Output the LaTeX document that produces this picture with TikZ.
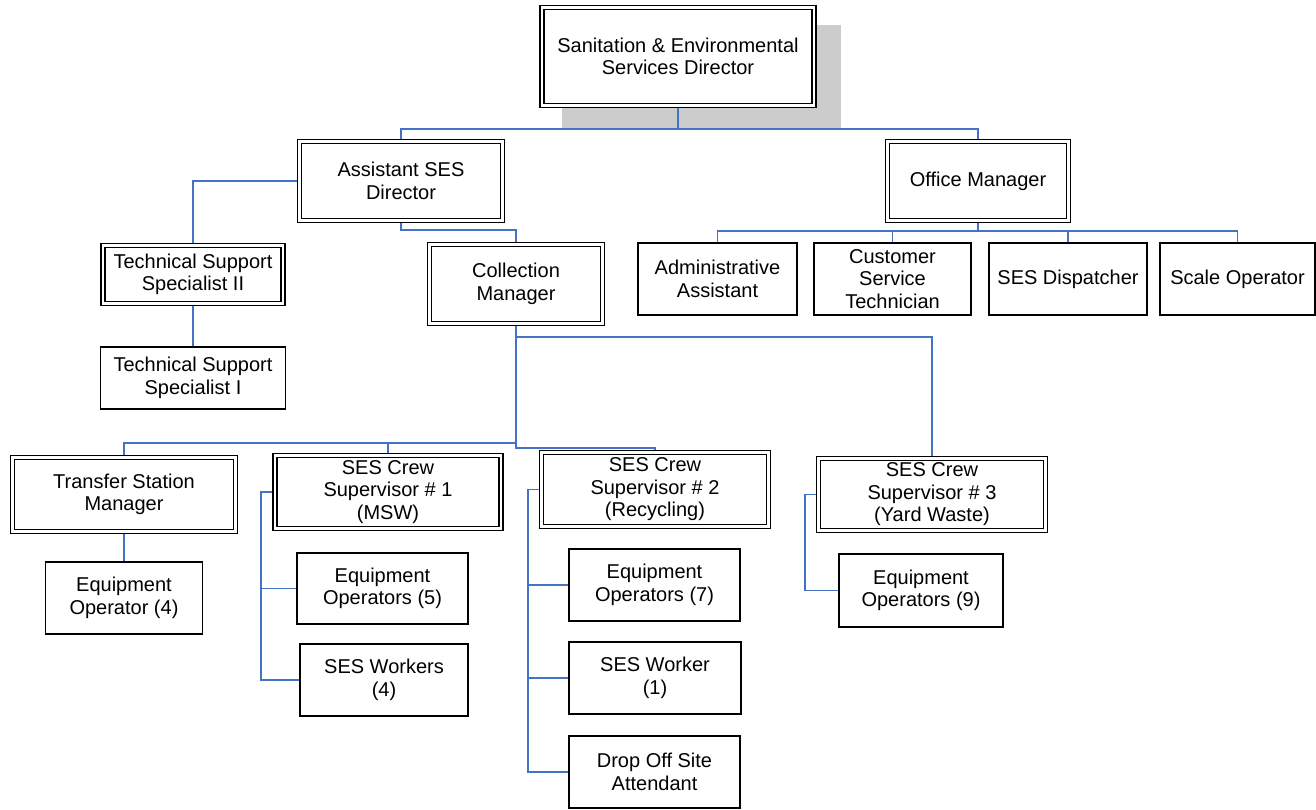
\documentclass[tikz,border=0pt]{standalone}
\usepackage{fontspec}
\setmainfont{Liberation Sans}
\usetikzlibrary{backgrounds}
\definecolor{connblue}{RGB}{68,114,196}
\definecolor{shadowgray}{RGB}{204,204,204}
\tikzset{
  box/.style={draw=black, line width=1.5pt, fill=white, inner sep=0pt, align=center,
    font=\fontsize{20}{22.5}\selectfont},
  dblbox/.style={box, double=white, double distance=2.2pt, line width=1.5pt},
  conn/.style={draw=connblue, line width=1.6pt},
}
\begin{document}
\begin{tikzpicture}[x=1pt, y=-1pt]
\useasboundingbox (0,0) rectangle (1316,809);
% double-bordered boxes
\node[dblbox, minimum width=272pt, minimum height=98pt] (dir) at (678,56.5) {Sanitation \& Environmental\\Services Director};
\node[dblbox, minimum width=203pt, minimum height=79pt] (asst) at (401,181) {Assistant SES\\Director};
\node[dblbox, minimum width=181pt, minimum height=79pt] (off) at (978,181) {Office Manager};
\node[dblbox, minimum width=180pt, minimum height=58pt] (ts2) at (193,274.5) {Technical Support\\Specialist II};
\node[dblbox, minimum width=173pt, minimum height=79pt] (coll) at (516,284) {Collection\\Manager};
\node[dblbox, minimum width=223pt, minimum height=74pt] (tsm) at (124,494.5) {Transfer Station\\Manager};
\node[dblbox, minimum width=226pt, minimum height=73pt] (sup1) at (388,492) {SES Crew\\Supervisor \# 1\\(MSW)};
\node[dblbox, minimum width=227pt, minimum height=74pt] (sup2) at (655,489.5) {SES Crew\\Supervisor \# 2\\(Recycling)};
\node[dblbox, minimum width=227pt, minimum height=72pt] (sup3) at (932,494.5) {SES Crew\\Supervisor \# 3\\(Yard Waste)};
% single boxes
\node[box, minimum width=185pt, minimum height=62pt] (ts1) at (193,378) {Technical Support\\Specialist I};
\node[box, minimum width=159pt, minimum height=72pt] (admin) at (717.5,279) {Administrative\\Assistant};
\node[box, minimum width=157pt, minimum height=72pt] (cust) at (892.5,279) {Customer\\Service\\Technician};
\node[box, minimum width=158pt, minimum height=72pt] (disp) at (1068,279) {SES Dispatcher};
\node[box, minimum width=155pt, minimum height=72pt] (scale) at (1237.5,279) {Scale Operator};
\node[box, minimum width=157pt, minimum height=72pt] (eo4) at (124,598) {Equipment\\Operator (4)};
\node[box, minimum width=171pt, minimum height=71pt] (eo5) at (382.5,588.5) {Equipment\\Operators (5)};
\node[box, minimum width=168pt, minimum height=72pt] (sw4) at (384,680) {SES Workers\\(4)};
\node[box, minimum width=171pt, minimum height=72pt] (eo7) at (654.5,585) {Equipment\\Operators (7)};
\node[box, minimum width=172pt, minimum height=72pt] (sw1) at (655,678) {SES Worker\\(1)};
\node[box, minimum width=171pt, minimum height=72pt] (do) at (654.5,772) {Drop Off Site\\Attendant};
\node[box, minimum width=164pt, minimum height=73pt] (eo9) at (921,590.5) {Equipment\\Operators (9)};
\begin{scope}[on background layer]
  % shadow of the director box
  \fill[shadowgray] (562,25) rectangle (841,128);
  % top level
  \draw[conn] (dir.south) -- (dir.south |- 0,129);
  \draw[conn] (asst.north) -- (asst.north |- 0,129) -| (off.north);
  % assistant branch
  \draw[conn] (asst.west) -| (ts2.north);
  \draw[conn] (ts2.south) -- (ts1.north);
  \draw[conn] (asst.south) -- ++(0,9) -| (coll.north);
  % office manager branch
  \draw[conn] (off.south) -- ++(0,10) coordinate (ob);
  \draw[conn] (admin.north) |- (ob) -| (scale.north);
  \draw[conn] (cust.north) -- (cust.north |- ob);
  \draw[conn] (disp.north) -- (disp.north |- ob);
  % collection manager branch
  \draw[conn] (coll.south) -- ++(0,124) coordinate (cb) -| (sup2.north);
  \draw[conn] (coll.south |- 0,337) -| (sup3.north);
  \draw[conn] (coll.south |- 0,443) -| (tsm.north);
  \draw[conn] (sup1.north) -- (sup1.north |- 0,443);
  % transfer station
  \draw[conn] (tsm.south) -- (eo4.north);
  % supervisor 1
  \draw[conn] (sup1.west) -- ++(-13,0) coordinate (s1) |- (sw4.west);
  \draw[conn] (eo5.west) -- (eo5.west -| s1);
  % supervisor 2
  \draw[conn] (sup2.west) -- ++(-13,0) coordinate (s2) |- (do.west);
  \draw[conn] (eo7.west) -- (eo7.west -| s2);
  \draw[conn] (sw1.west) -- (sw1.west -| s2);
  % supervisor 3
  \draw[conn] (sup3.west) -- ++(-13,0) |- (eo9.west);
\end{scope}
\end{tikzpicture}
\end{document}
